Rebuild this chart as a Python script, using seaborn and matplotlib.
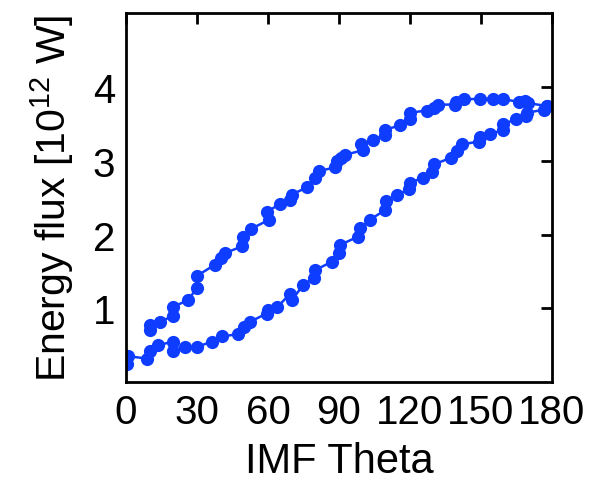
import matplotlib
matplotlib.use("Agg")
import matplotlib.pyplot as plt
import seaborn as sns
import pandas as pd

# Lower branch (theta increasing 0 -> 180)
lower_theta = [0.5, 1, 9, 10, 13.5, 20, 20, 25, 30, 36.5, 40.5, 47.5, 50, 52.5,
               59.5, 60, 64, 69.5, 70, 75, 79.5, 80, 87, 90, 90.5, 98, 99, 103,
               109.5, 110, 114.5, 119.5, 120, 125.5, 129.5, 130, 137.5, 140, 142,
               149, 149.5, 154, 159.5, 159.5, 165, 169, 169.5, 176.5, 178]
lower_flux = [0.25, 0.35, 0.32, 0.42, 0.50, 0.55, 0.42, 0.47, 0.48, 0.55, 0.62, 0.65, 0.75, 0.82,
              0.93, 0.98, 1.02, 1.20, 1.11, 1.32, 1.41, 1.52, 1.63, 1.75, 1.86, 1.97, 2.09, 2.20,
              2.33, 2.45, 2.54, 2.61, 2.70, 2.77, 2.85, 2.95, 3.04, 3.13, 3.22,
              3.26, 3.32, 3.36, 3.42, 3.50, 3.56, 3.60, 3.65, 3.69, 3.74]

# Upper branch (theta decreasing 180 -> 10)
upper_theta = [178, 170, 168.5, 166, 159.5, 155, 149.5, 143, 139.5, 139, 132, 130, 127,
               120, 120, 116, 109.5, 109.5, 104.5, 99.5, 100, 92.5, 91, 89, 88.5,
               81.5, 80, 76.5, 70, 69.5, 65, 59.5, 60.5, 53, 49.5, 49, 42, 40, 37.5,
               30, 30, 26, 20, 20, 14.5, 10, 10]
upper_flux = [3.74, 3.78, 3.81, 3.80, 3.83, 3.84, 3.84, 3.83, 3.80, 3.76, 3.76, 3.71, 3.68,
              3.65, 3.57, 3.48, 3.42, 3.35, 3.28, 3.22, 3.14, 3.08, 3.04, 2.99, 2.91,
              2.86, 2.77, 2.64, 2.54, 2.47, 2.41, 2.31, 2.20, 2.08, 1.96, 1.84, 1.75, 1.68, 1.59,
              1.44, 1.27, 1.11, 1.02, 0.90, 0.82, 0.77, 0.71]

x_ticks = [0, 30, 60, 90, 120, 150, 180]
y_ticks = [1, 2, 3, 4]

sns.set_theme(style="white")
plt.rcParams['font.family'] = ['Liberation Sans', 'DejaVu Sans']
plt.rcParams['mathtext.fontset'] = 'custom'
plt.rcParams['mathtext.rm'] = 'Liberation Sans'

df = pd.concat([
    pd.DataFrame({"theta": lower_theta, "flux": lower_flux, "branch": "lower"}),
    pd.DataFrame({"theta": upper_theta, "flux": upper_flux, "branch": "upper"}),
], ignore_index=True)

color = "#0f3dff"
fig = plt.figure(figsize=(5.89, 4.85), dpi=100)
ax = fig.add_axes([0.214, 0.210, 0.723, 0.761])
sns.lineplot(data=df, x="theta", y="flux", units="branch", estimator=None, sort=False,
             color=color, marker="o", markersize=9.5, markeredgewidth=0,
             linewidth=1.8, ax=ax, legend=False)

ax.set_xlim(0, 180)
ax.set_ylim(0, 5)
ax.set_xticks(x_ticks)
ax.set_yticks(y_ticks)
ax.set_xticklabels([str(t) for t in x_ticks])
ax.set_yticklabels([str(t) for t in y_ticks])
ax.tick_params(direction="in", length=8, width=2, top=True, right=True,
               labelsize=29, pad=8, colors="black", labelcolor="black")
for s in ax.spines.values():
    s.set_linewidth(2)
    s.set_color("black")
    s.set_visible(True)
ax.set_xlabel("IMF Theta", fontsize=30, labelpad=7, color="black")
ax.set_ylabel(r"Energy flux [10$^{12}$ W]", fontsize=29.5, labelpad=12, color="black")

fig.savefig("out.png", dpi=100)
